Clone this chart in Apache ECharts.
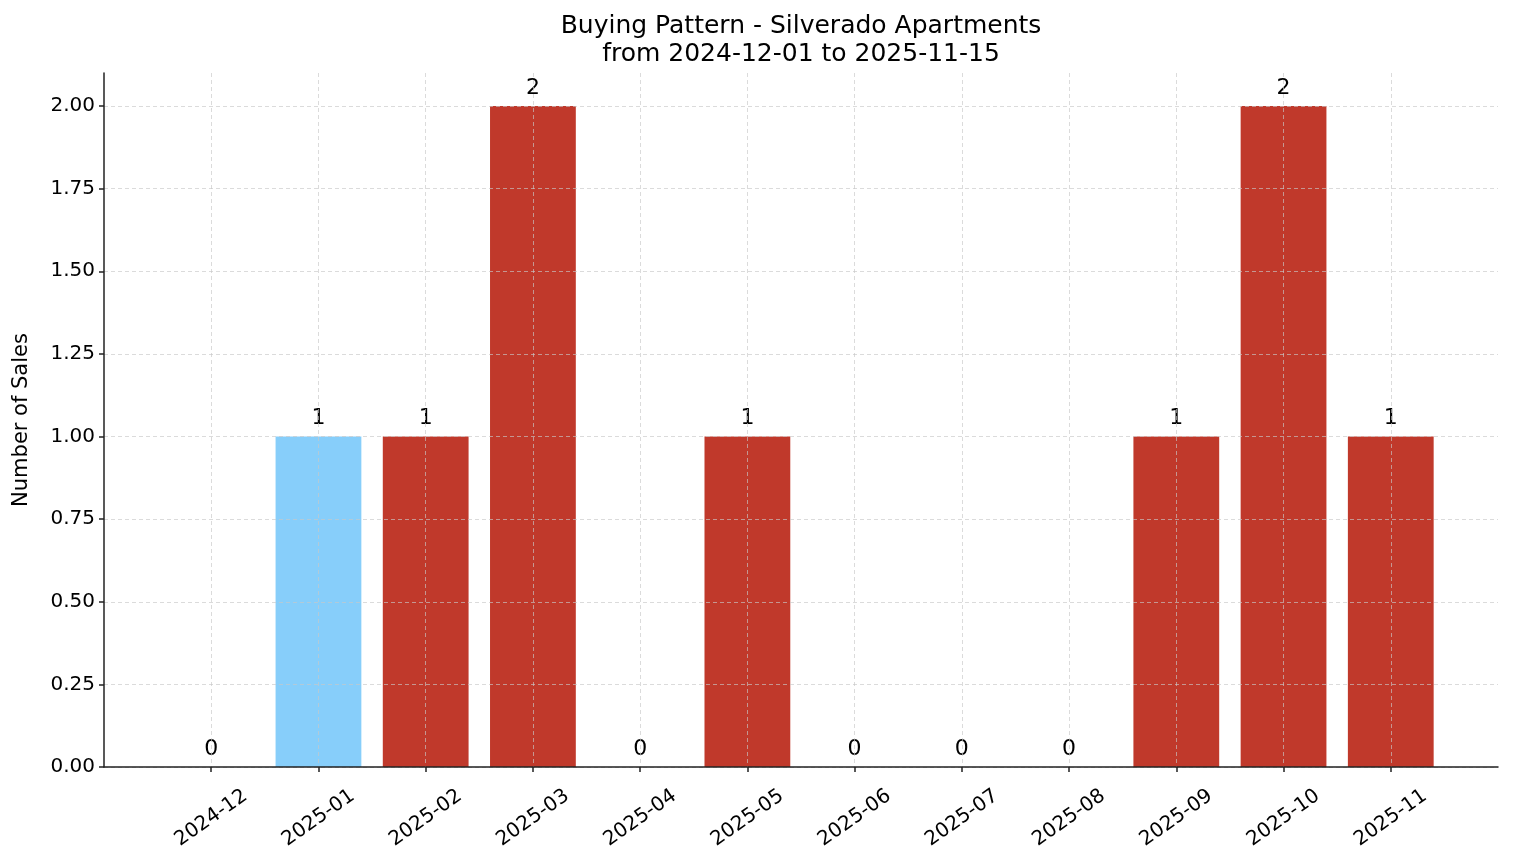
<!DOCTYPE html>
<html>
<head>
<meta charset="utf-8">
<script src="https://cdn.jsdelivr.net/npm/echarts@6/dist/echarts.min.js"></script>
<style>
html,body{margin:0;padding:0;background:#fff;}
#chart{width:1514px;height:863px;}
</style>
</head>
<body>
<div id="chart"></div>
<script>
const months = ['2024-12','2025-01','2025-02','2025-03','2025-04','2025-05','2025-06','2025-07','2025-08','2025-09','2025-10','2025-11'];
const sales = [0,1,1,2,0,1,0,0,0,1,2,1];
const highlightMonth = '2025-01';
const yTicks = [0,0.25,0.5,0.75,1,1.25,1.5,1.75,2];
const titleLines = ['Buying Pattern - Silverado Apartments','from 2024-12-01 to 2025-11-15'];
const yName = 'Number of Sales';

const FONT = 'DejaVu Sans';
const RED = '#C0392B';
const BLUE = '#87CEFA';
const GRID = 'rgba(200,200,200,0.65)';

const chart = echarts.init(document.getElementById('chart'), null, {renderer:'canvas'});
const idx = months.map((m,i)=>i);
const gridLeft = 104, gridRight = 16, W = 1514;

chart.setOption({
  animation:false,
  backgroundColor:'#fff',
  textStyle:{fontFamily:FONT},
  title:{
    text:titleLines.join('\n'),
    left:(gridLeft + (W - gridRight)) / 2,
    textAlign:'center',
    padding:0,
    top:12,
    textStyle:{fontFamily:FONT,fontSize:25,fontWeight:'normal',color:'#000',lineHeight:28}
  },
  grid:{left:gridLeft,right:gridRight,top:73,bottom:96,containLabel:false},
  xAxis:{
    type:'value',
    min:-1,max:12,interval:1,
    z:5,
    axisLine:{show:true,onZero:false,lineStyle:{color:'#222',width:1.5}},
    axisTick:{show:true,length:5,lineStyle:{color:'#222',width:1.5},customValues:idx},
    axisLabel:{
      customValues:idx,
      rotate:35,
      align:'center',
      verticalAlign:'middle',
      margin:51,
      fontFamily:FONT,fontSize:20,color:'#000',
      formatter:function(v){const i=Math.round(v);return (i>=0&&i<months.length&&Math.abs(v-i)<1e-6)?months[i]:'';}
    },
    splitLine:{show:true,lineStyle:{color:GRID,width:1,type:[4,3]}}
  },
  yAxis:{
    type:'value',
    min:0,max:2.1,interval:0.25,
    z:5,
    name:yName,
    nameLocation:'middle',
    nameGap:72,
    nameTextStyle:{fontFamily:FONT,fontSize:21,color:'#000'},
    axisLine:{show:true,onZero:false,lineStyle:{color:'#222',width:1.5}},
    axisTick:{show:true,length:5,lineStyle:{color:'#222',width:1.5},customValues:yTicks},
    axisLabel:{
      customValues:yTicks,
      margin:9,fontFamily:FONT,fontSize:20,color:'#000',
      formatter:function(v){return v.toFixed(2);}
    },
    splitLine:{show:true,lineStyle:{color:GRID,width:1,type:[4,3]}}
  },
  series:[{
    type:'bar',
    barWidth:'80%',
    z:2,
    data:sales.map((v,i)=>({value:[i,v],itemStyle:{color:months[i]===highlightMonth?BLUE:RED}})),
    label:{
      show:true,position:'top',distance:7,
      fontFamily:FONT,fontSize:22,color:'#000',
      formatter:function(p){return String(p.value[1]);}
    }
  }]
});
</script>
</body>
</html>
